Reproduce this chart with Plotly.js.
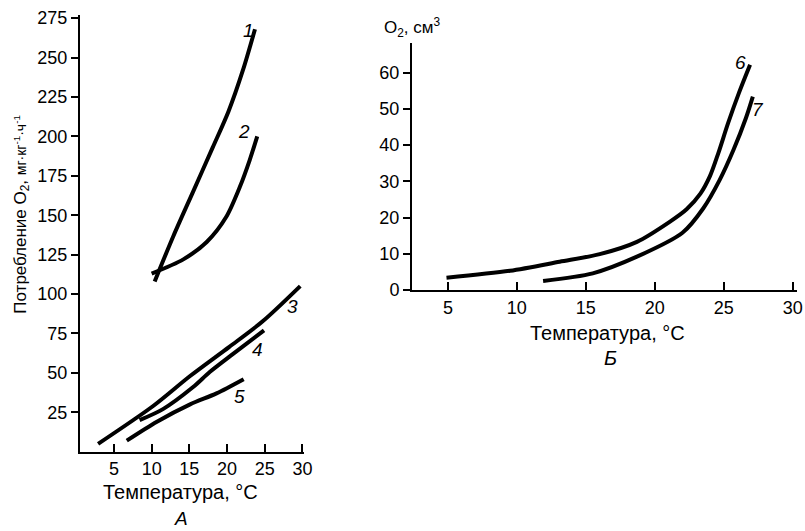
<!DOCTYPE html>
<html>
<head>
<meta charset="utf-8">
<script src="https://cdn.plot.ly/plotly-3.0.1.min.js"></script>
<style>
  html, body { margin: 0; padding: 0; background: #fff; }
  #chart { width: 805px; height: 531px; }
</style>
</head>
<body>
<div id="chart"></div>
<script>
// Panel A: oxygen consumption (mg·kg⁻¹·h⁻¹) vs temperature, curves 1–5
const c1x = [10.4, 12.9, 15.5, 18.1, 20.2, 22.1, 23.7];
const c1y = [108, 137, 165, 193, 216, 242, 268];
const c2x = [10.0, 14.2, 17.3, 19.9, 21.7, 23.0, 24.0];
const c2y = [113, 122, 133, 149, 168, 185, 200];
const c3x = [2.9, 10.2, 15.1, 20.3, 24.8, 29.7];
const c3y = [5, 29, 48, 66.5, 83, 105];
const c4x = [8.4, 11.5, 15.5, 17.7, 20.8, 24.9];
const c4y = [20, 27, 41, 50.5, 62, 77];
const c5x = [6.7, 10.7, 15.1, 18.6, 22.2];
const c5y = [7, 19, 30, 37, 46];

// Panel Б: O2 volume (cm³) vs temperature, curves 6–7
const c6x = [4.9, 9.5, 13.1, 16.0, 18.7, 21.1, 22.3, 23.3, 24.0, 24.6, 25.3, 26.1, 26.9];
const c6y = [3.4, 5.3, 7.8, 9.9, 13.3, 18.9, 22.3, 26.6, 31.5, 37.8, 46.0, 54.5, 62.2];
const c7x = [11.9, 15.5, 18.7, 22.0, 23.5, 24.7, 25.7, 26.6, 27.1];
const c7y = [2.5, 4.6, 9.2, 15.8, 22.5, 30.4, 38.7, 47.5, 53.4];

const ticksA_x = [5, 10, 15, 20, 25, 30];
const ticksA_y = [25, 50, 75, 100, 125, 150, 175, 200, 225, 250, 275];
const ticksB_x = [5, 10, 15, 20, 25, 30];
const ticksB_y = [0, 10, 20, 30, 40, 50, 60];

// curve number labels: [text, x, y, panel]
const curveLabels = [
  ['1', 22.9, 267, 'A'], ['2', 22.3, 203, 'A'], ['3', 28.7, 92, 'A'],
  ['4', 24.0, 65, 'A'], ['5', 21.7, 35, 'A'],
  ['6', 26.2, 62.7, 'B'], ['7', 27.5, 49.7, 'B']
];

const FONT = 'Liberation Sans, Arial, sans-serif';
const lineStyle = { color: '#000', width: 4, shape: 'spline', smoothing: 0.8 };

function curve(x, y, xa, ya) {
  return { x: x, y: y, xaxis: xa, yaxis: ya, type: 'scatter', mode: 'lines',
           line: lineStyle, hoverinfo: 'skip' };
}

const data = [
  curve(c1x, c1y, 'x', 'y'),
  curve(c2x, c2y, 'x', 'y'),
  curve(c3x, c3y, 'x', 'y'),
  curve(c4x, c4y, 'x', 'y'),
  curve(c5x, c5y, 'x', 'y'),
  curve(c6x, c6y, 'x2', 'y2'),
  curve(c7x, c7y, 'x2', 'y2')
];

const axisBase = {
  showgrid: false, zeroline: false, showline: true, linecolor: '#000', linewidth: 2,
  tickcolor: '#000', tickwidth: 2, tickfont: { family: FONT, size: 18, color: '#000' },
  fixedrange: true
};

function note(text, x, y, size, extra) {
  return Object.assign({ text: text, xref: 'paper', yref: 'paper', x: x / 805, y: 1 - y / 531,
    xanchor: 'center', yanchor: 'middle', showarrow: false,
    font: { family: FONT, size: size, color: '#000' } }, extra || {});
}

const annotations = curveLabels.map(function (l) {
  return { text: '<i>' + l[0] + '</i>', x: l[1], y: l[2],
           xref: l[3] === 'A' ? 'x' : 'x2', yref: l[3] === 'A' ? 'y' : 'y2',
           xanchor: 'center', yanchor: 'middle', showarrow: false,
           font: { family: FONT, size: 19, color: '#000' } };
});

annotations.push(
  note('Потребление O<sub>2</sub>, <span style="font-size:14px">мг·кг<sup>-1</sup>·ч<sup>-1</sup></span>',
       21.7, 214, 17, { textangle: -90 }),
  note('Температура, °C', 180, 492, 20),
  note('<i>А</i>', 181, 518, 19),
  note('O<sub>2</sub>, см<sup>3</sup>', 412, 28, 17),
  note('Температура, °C', 607, 333, 20),
  note('<i>Б</i>', 610, 358, 20)
);

const layout = {
  width: 805, height: 531,
  margin: { l: 0, r: 0, t: 0, b: 0 },
  paper_bgcolor: '#fff', plot_bgcolor: '#fff',
  showlegend: false,
  xaxis: Object.assign({}, axisBase, {
    domain: [80 / 805, 304 / 805], range: [0.5, 30.2],
    tickvals: ticksA_x, ticks: 'inside', ticklen: 8, anchor: 'y'
  }),
  yaxis: Object.assign({}, axisBase, {
    domain: [79.3 / 531, 516 / 531], range: [0, 277],
    tickvals: ticksA_y, ticks: 'outside', ticklen: 7, anchor: 'x'
  }),
  xaxis2: Object.assign({}, axisBase, {
    domain: [412 / 805, 797 / 805], range: [2.4, 30.3],
    tickvals: ticksB_x, ticks: 'inside', ticklen: 8, anchor: 'y2'
  }),
  yaxis2: Object.assign({}, axisBase, {
    domain: [241 / 531, 488 / 531], range: [0, 68.2],
    tickvals: ticksB_y, ticks: 'outside', ticklen: 7, anchor: 'x2'
  }),
  annotations: annotations
};

Plotly.newPlot('chart', data, layout, { staticPlot: true, displayModeBar: false });
</script>
</body>
</html>
